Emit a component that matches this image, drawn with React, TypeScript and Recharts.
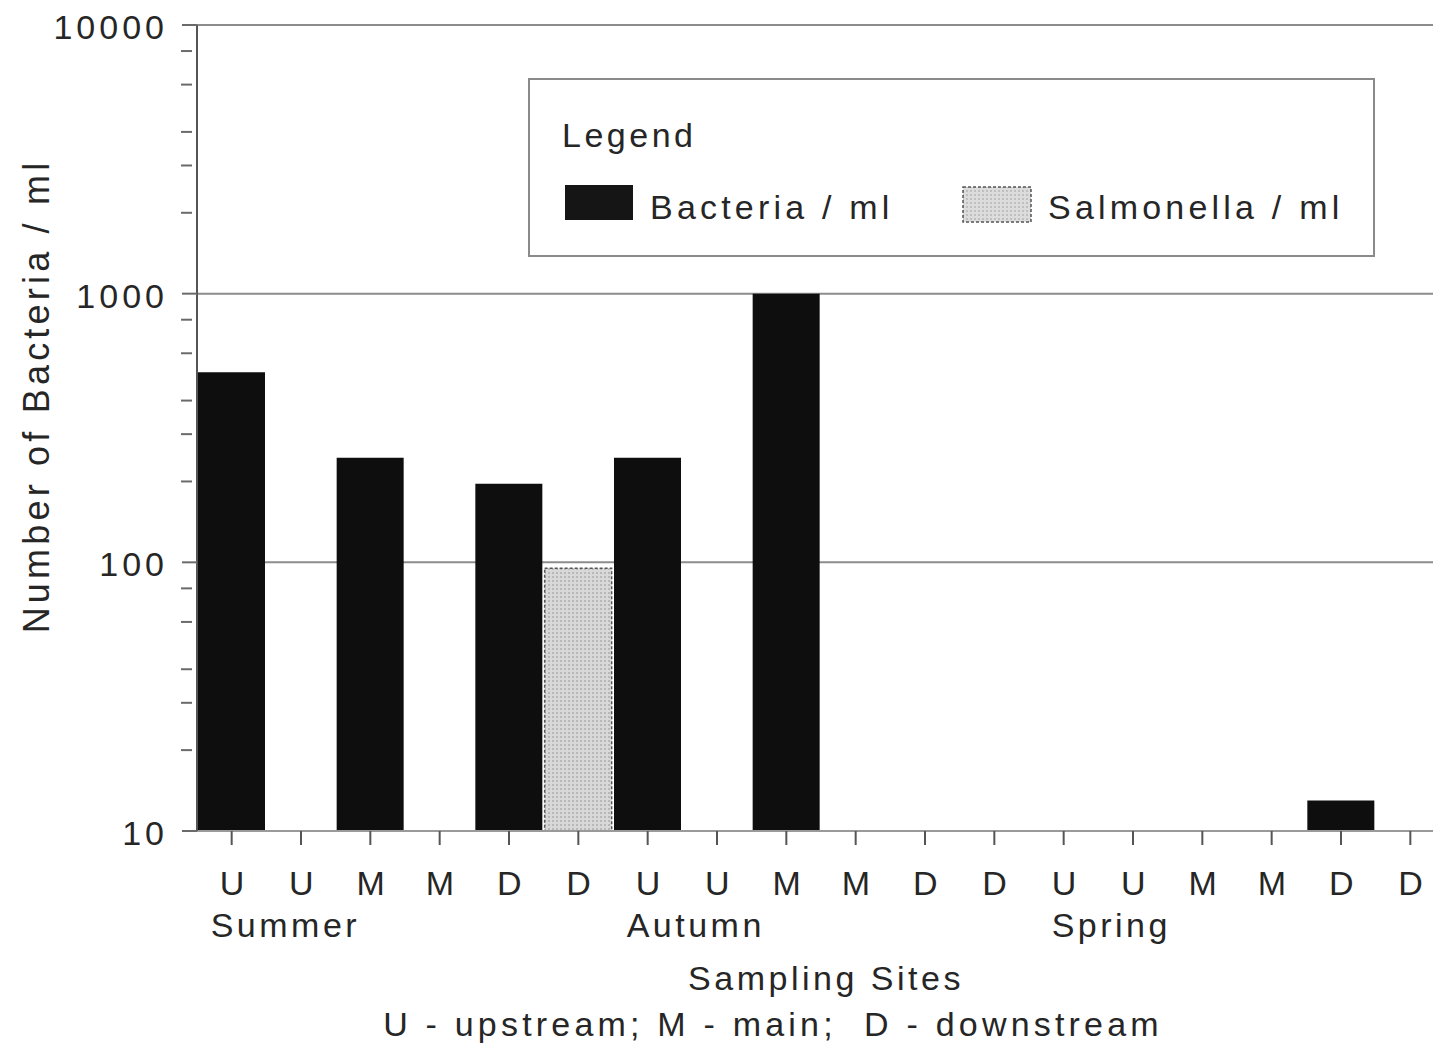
import { Bar, BarChart, CartesianGrid, Cell, Legend, XAxis, YAxis } from "recharts";

// sampling sites, three seasons, two samples per site
const SITES = ["U", "U", "M", "M", "D", "D", "U", "U", "M", "M", "D", "D", "U", "U", "M", "M", "D", "D"];
const SEASONS = ["Summer", "", "", "", "", "", "Autumn", "", "", "", "", "", "Spring", "", "", "", "", ""];
// first bar of each pair is total bacteria, second is salmonella
const KINDS = [
  "Bacteria", "Salmonella", "Bacteria", "Salmonella", "Bacteria", "Salmonella",
  "Bacteria", "Salmonella", "Bacteria", "Salmonella", "Bacteria", "Salmonella",
  "Bacteria", "Salmonella", "Bacteria", "Salmonella", "Bacteria", "Salmonella",
];
const COUNTS: (number | null)[] = [
  510, null, 245, null, 196, 95,
  245, null, 1000, null, null, null,
  null, null, null, null, 13, null,
];

const Y_MAJOR = [10, 100, 1000, 10000];
const Y_TICKS = [
  10, 20, 30, 40, 50, 60, 70, 80, 90,
  100, 200, 300, 400, 500, 600, 700, 800, 900,
  1000, 2000, 3000, 4000, 5000, 6000, 7000, 8000, 9000,
  10000,
];

const FONT = "'Liberation Sans', Arial, Helvetica, sans-serif";
const INK = "#262626";

const data = SITES.map((site, i) => ({
  key: `${i}-${site}`,
  site,
  season: SEASONS[i],
  kind: KINDS[i],
  count: COUNTS[i],
}));

function YTick(props: any) {
  const { x, y, payload } = props;
  const v = payload.value;
  const major = Y_MAJOR.includes(v);
  return (
    <g>
      <line
        x1={major ? x - 15 : x - 16}
        x2={major ? x : x - 5}
        y1={y}
        y2={y}
        stroke="#6a6a6a"
        strokeWidth={2}
      />
      {major && (
        <text
          x={x - 29}
          y={y + 2}
          dominantBaseline="central"
          textAnchor="end"
          fontFamily={FONT}
          fontSize={34}
          letterSpacing={4}
          fill={INK}
        >
          {v}
        </text>
      )}
    </g>
  );
}

function XTick(props: any) {
  const { x, y, index } = props;
  const season = SEASONS[index];
  const dx = season === "Spring" ? -12 : -21;
  return (
    <g fontFamily={FONT} fontSize={34} fill={INK}>
      <text x={x + 2} y={y + 48} textAnchor="middle" letterSpacing={3.5} fill={INK}>
        {SITES[index]}
      </text>
      {season && (
        <text x={x + dx} y={y + 90} textAnchor="start" letterSpacing={3.5} fill={INK}>
          {season}
        </text>
      )}
    </g>
  );
}

function XLabel() {
  return (
    <g fontFamily={FONT} fontSize={34} fill={INK}>
      <text x={826} y={990} textAnchor="middle" letterSpacing={3.5} fill={INK}>
        Sampling Sites
      </text>
      <text x={773} y={1036} textAnchor="middle" letterSpacing={4.2} fill={INK} style={{ whiteSpace: "pre" }}>
        {"U - upstream; M - main;  D - downstream"}
      </text>
    </g>
  );
}

function YLabel() {
  return (
    <text
      x={36}
      y={396}
      transform="rotate(-90 36 396)"
      textAnchor="middle"
      dominantBaseline="central"
      fontFamily={FONT}
      fontSize={36}
      letterSpacing={4.2}
      fill={INK}
    >
      Number of Bacteria / ml
    </text>
  );
}

// only the decade lines (above the baseline) are drawn as grid lines
function GridLine(props: any) {
  const { x1, x2, y1, y2, y, height, index } = props;
  const decades = Math.log10(Y_MAJOR[Y_MAJOR.length - 1] / Y_MAJOR[0]);
  const pos = ((y1 - y) / height) * decades;
  const isDecade = Math.abs(pos - Math.round(pos)) < 0.01 && Math.round(pos) < decades;
  if (!isDecade) return <g key={`g${index}`} />;
  return (
    <line key={`g${index}`} x1={x1} x2={x2} y1={y1} y2={y2} stroke="#8c8c8c" strokeWidth={2} />
  );
}

function LegendBox() {
  const text = {
    position: "absolute" as const,
    fontFamily: FONT,
    fontSize: 34,
    lineHeight: "34px",
    letterSpacing: 4.2,
    color: INK,
    whiteSpace: "nowrap" as const,
  };
  return (
    <div style={{ position: "relative", width: "100%", height: "100%" }}>
      <div style={{ ...text, left: 32, top: 38, letterSpacing: 3.5 }}>Legend</div>
      <div
        style={{ position: "absolute", left: 35, top: 105, width: 68, height: 35, background: "#151515" }}
      />
      <div style={{ ...text, left: 120, top: 110 }}>Bacteria / ml</div>
      <svg style={{ position: "absolute", left: 432, top: 106 }} width={70} height={37}>
        <defs>
          <pattern id="legendDots" width={4} height={4} patternUnits="userSpaceOnUse">
            <rect width={4} height={4} fill="#dcdcdc" />
            <circle cx={1} cy={1} r={0.8} fill="#9a9a9a" />
          </pattern>
        </defs>
        <rect
          x={1}
          y={1}
          width={68}
          height={35}
          fill="url(#legendDots)"
          stroke="#555"
          strokeWidth={1.5}
          strokeDasharray="3 2"
        />
      </svg>
      <div style={{ ...text, left: 518, top: 110 }}>Salmonella / ml</div>
    </div>
  );
}

export default function App() {
  return (
    <div
      style={{
        position: "absolute",
        left: 0,
        top: 0,
        width: 1433,
        height: 1047,
        overflow: "hidden",
        background: "#fff",
      }}
    >
      <BarChart
        width={1445}
        height={1047}
        data={data}
        margin={{ top: 25, right: 0, left: 47, bottom: 96 }}
        barCategoryGap={1}
      >
        <defs>
          <pattern id="salmonellaDots" width={4} height={4} patternUnits="userSpaceOnUse">
            <rect width={4} height={4} fill="#d8d8d8" />
            <circle cx={1} cy={1} r={0.8} fill="#8f8f8f" />
          </pattern>
        </defs>
        <CartesianGrid vertical={false} horizontal={(p: any) => <GridLine {...p} />} />
        <XAxis
          dataKey="key"
          interval={0}
          height={120}
          tickSize={14}
          tickMargin={2}
          axisLine={{ stroke: "#9a9a9a", strokeWidth: 2 }}
          tickLine={{ stroke: "#555", strokeWidth: 2 }}
          tick={<XTick />}
          label={{ content: () => <XLabel /> }}
        />
        <YAxis
          scale="log"
          domain={[10, 10000]}
          ticks={Y_TICKS}
          allowDataOverflow
          width={150}
          tickSize={0}
          tickMargin={0}
          tickLine={false}
          axisLine={{ stroke: "#555", strokeWidth: 2 }}
          tick={<YTick />}
          label={{ content: () => <YLabel /> }}
        />
        <Legend
          layout="horizontal"
          verticalAlign="middle"
          align="center"
          content={() => <LegendBox />}
          wrapperStyle={{
            left: 528,
            top: 78,
            width: 847,
            height: 179,
            border: "2px solid #8a8a8a",
            boxSizing: "border-box",
            background: "#fff",
          }}
        />
        <Bar dataKey="count" isAnimationActive={false}>
          {data.map((d, i) =>
            d.kind === "Bacteria" ? (
              <Cell key={i} fill="#0e0e0e" />
            ) : (
              <Cell
                key={i}
                fill="url(#salmonellaDots)"
                stroke="#555"
                strokeWidth={1.5}
                strokeDasharray="3 2"
              />
            )
          )}
        </Bar>
      </BarChart>
    </div>
  );
}
